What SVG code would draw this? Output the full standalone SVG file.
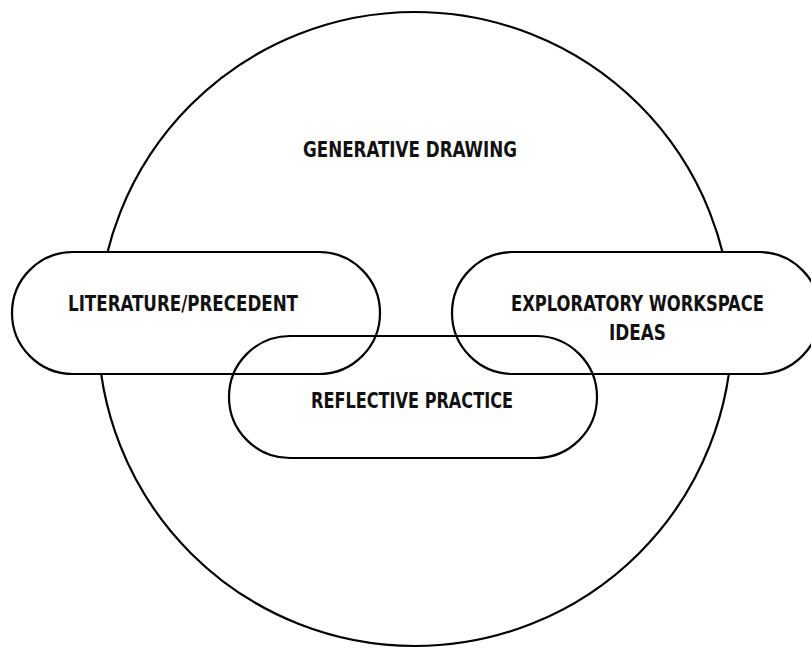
<svg xmlns="http://www.w3.org/2000/svg" width="811" height="648" viewBox="0 0 811 648">
<defs>
<rect id="pill" width="368" height="122" rx="61" ry="61"/>
</defs>
<style>
.shape{fill:none;stroke:#000;stroke-width:2.2}
.mask{fill:#fff;stroke:none}
.lbl{font-family:"DejaVu Sans Condensed","DejaVu Sans",sans-serif;font-stretch:condensed;font-weight:bold;font-size:21px;fill:#111;text-anchor:middle}
</style>
<rect width="811" height="648" fill="#fff"/>
<g id="generative-drawing">
<circle class="shape" cx="415" cy="329" r="317"/>
<text class="lbl" x="410" y="157" textLength="214" lengthAdjust="spacingAndGlyphs">GENERATIVE DRAWING</text>
</g>
<g id="pill-fills">
<use href="#pill" class="mask" x="12" y="252"/>
<use href="#pill" class="mask" x="452" y="252"/>
<use href="#pill" class="mask" x="229" y="336"/>
</g>
<g id="literature-precedent">
<use href="#pill" class="shape" x="12" y="252"/>
<text class="lbl" x="183" y="311" textLength="230" lengthAdjust="spacingAndGlyphs">LITERATURE/PRECEDENT</text>
</g>
<g id="exploratory-workspace">
<use href="#pill" class="shape" x="452" y="252"/>
<text class="lbl" x="637.5" y="311" textLength="253" lengthAdjust="spacingAndGlyphs">EXPLORATORY WORKSPACE</text>
<text class="lbl" x="637.5" y="340" textLength="57" lengthAdjust="spacingAndGlyphs">IDEAS</text>
</g>
<g id="reflective-practice">
<use href="#pill" class="shape" x="229" y="336"/>
<text class="lbl" x="412" y="408" textLength="202" lengthAdjust="spacingAndGlyphs">REFLECTIVE PRACTICE</text>
</g>
<g id="connectors"></g>
</svg>
